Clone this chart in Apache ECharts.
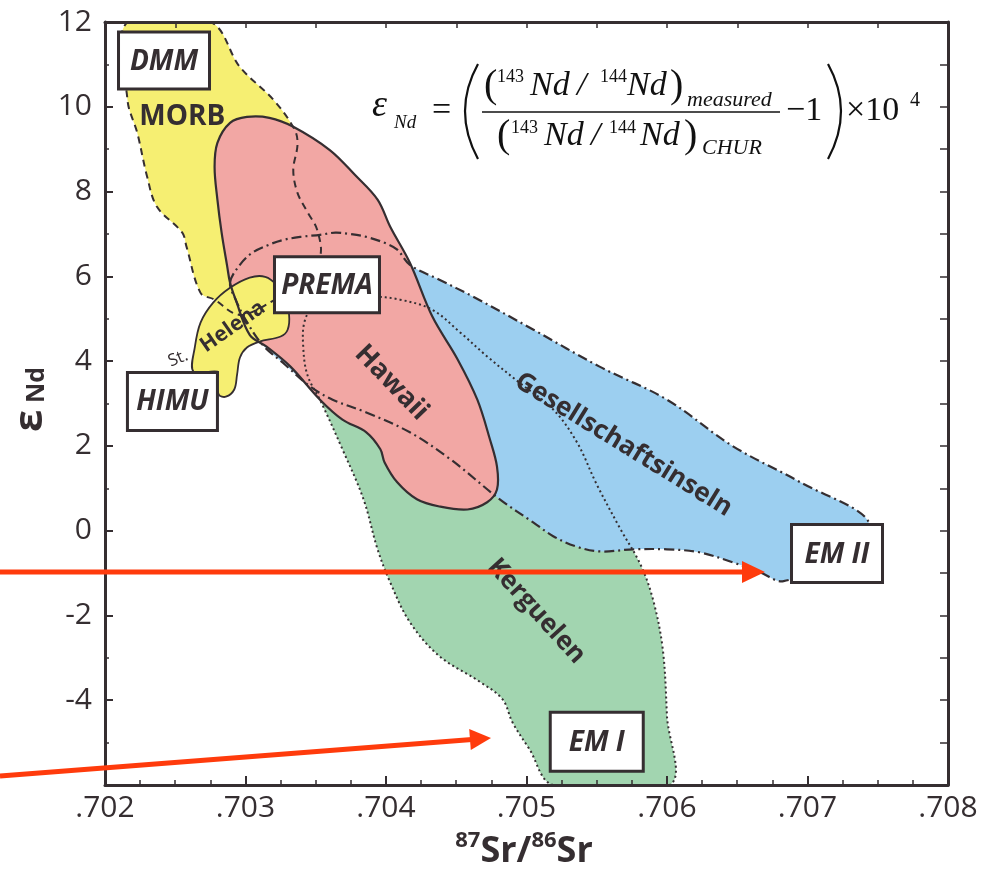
<!DOCTYPE html>
<html><head><meta charset="utf-8">
<script src="https://cdn.jsdelivr.net/npm/echarts@6/dist/echarts.min.js"></script>
<style>html,body{margin:0;padding:0;background:#fff;}#c{width:994px;height:871px;}</style>
</head><body><div id="c"></div>
<script>
// ---------- data (87Sr/86Sr , eps Nd) ----------
const xTickLabels = ['.702', '.703', '.704', '.705', '.706', '.707', '.708'];
const yTickLabels = ['', '-4', '-2', '0', '2', '4', '6', '8', '10', '12'];

const morb = [[0.70216,12.0],[0.70275,12.0],[0.70296,10.94],[0.70320,10.16],[0.70335,9.46],[0.70337,9.10],[0.70334,8.51],[0.70337,7.97],[0.70344,7.52],[0.70351,7.10],[0.70353,6.46],[0.70339,5.80],[0.70321,5.45],[0.70300,5.10],[0.70291,5.14],[0.70278,5.45],[0.70268,5.61],[0.70258,6.70],[0.70255,7.03],[0.70237,7.64],[0.70230,8.35],[0.70223,9.38],[0.70216,10.16]];

const hawaii = [[0.70301,9.76],[0.70317,9.74],[0.70334,9.53],[0.70360,8.98],[0.70378,8.39],[0.70394,7.81],[0.70403,7.17],[0.70417,6.32],[0.70433,5.05],[0.70451,4.04],[0.70465,3.09],[0.70474,2.15],[0.70479,1.51],[0.70479,0.97],[0.70472,0.67],[0.70458,0.50],[0.70438,0.57],[0.70422,0.74],[0.70408,1.14],[0.70399,1.61],[0.70396,1.92],[0.70386,2.32],[0.70369,2.62],[0.70353,3.09],[0.70332,3.87],[0.70315,4.34],[0.70303,4.62],[0.70293,5.45],[0.70289,5.85],[0.70287,6.23],[0.70283,7.03],[0.70280,7.81],[0.70278,8.58],[0.70280,9.15],[0.70289,9.62]];

const gesellschaftsinseln = [[0.70289,5.85],[0.70296,6.27],[0.70305,6.56],[0.70317,6.75],[0.70327,6.86],[0.70339,6.93],[0.70353,6.98],[0.70364,7.03],[0.70374,7.00],[0.70386,6.93],[0.70399,6.79],[0.70408,6.63],[0.70417,6.27],[0.70438,5.92],[0.70462,5.52],[0.70505,4.74],[0.70552,3.87],[0.70600,3.09],[0.70647,1.99],[0.70695,1.14],[0.70744,0.17],[0.70716,-0.68],[0.70683,-1.19],[0.70666,-0.98],[0.70647,-0.75],[0.70623,-0.51],[0.70600,-0.44],[0.70576,-0.44],[0.70552,-0.49],[0.70535,-0.37],[0.70519,-0.13],[0.70505,0.19],[0.70481,0.74],[0.70446,1.68],[0.70417,2.32],[0.70386,2.79],[0.70362,3.09],[0.70346,3.40],[0.70328,3.92],[0.70312,4.39],[0.70300,4.98],[0.70293,5.45]];

const kerguelen = [[0.70342,4.93],[0.70348,5.26],[0.70367,5.45],[0.70389,5.52],[0.70410,5.45],[0.70433,5.21],[0.70453,4.67],[0.70472,4.11],[0.70495,3.49],[0.70519,2.86],[0.70536,2.08],[0.70550,1.09],[0.70567,0.03],[0.70581,-0.79],[0.70590,-1.62],[0.70597,-2.80],[0.70600,-4.38],[0.70602,-6.0],[0.70519,-6.0],[0.70502,-5.15],[0.70490,-4.52],[0.70483,-3.98],[0.70467,-3.57],[0.70438,-2.96],[0.70417,-2.16],[0.70403,-1.22],[0.70394,-0.44],[0.70384,0.74],[0.70369,1.92],[0.70354,3.02],[0.70344,3.68],[0.70341,4.39]];

const stHelena = [[0.70263,3.75],[0.70264,4.34],[0.70268,4.91],[0.70277,5.38],[0.70289,5.73],[0.70303,5.97],[0.70314,5.99],[0.70322,5.80],[0.70328,5.45],[0.70331,5.10],[0.70330,4.74],[0.70325,4.58],[0.70310,4.46],[0.70301,4.32],[0.70296,4.08],[0.70294,3.68],[0.70292,3.33],[0.70286,3.16],[0.70281,3.21],[0.70280,3.56],[0.70280,3.75]];

const endmemberNames = ['DMM', 'HIMU', 'PREMA', 'EM II', 'EM I'];
const endmemberX = [0.70242, 0.70248, 0.70358, 0.70721, 0.70550];
const endmemberY = [11.09, 3.05, 5.80, -0.54, -4.98];

const regionNames = ['MORB', 'Hawaii', 'Gesellschaftsinseln', 'Kerguelen', 'Helena', 'St.'];
const regionX = [0.70255, 0.70404, 0.70569, 0.70507, 0.70291, 0.70252];
const regionY = [9.75, 3.49, 2.03, -1.90, 4.81, 4.06];

// ---------- styles ----------
const INK = '#352e31';
const boxSize = [[91,57],[90,58],[105,56],[91,58],[93,59]];
const regionRot = [0, -46, -31.7, -47.7, 35, 22];
const regionFont = ['bold 28px "Open Sans"', 'bold 27px "Open Sans"', 'bold 26px "Open Sans"', 'bold 26px "Open Sans"', 'bold 21px "Open Sans"', '17px "Open Sans"'];

function polyFill(name, pts, fill, z) {
  return {type:'custom', name, data: pts, z, silent:true, clip:true,
    renderItem: (params, api) => {
      if (params.dataIndex !== 0) return null;
      return {type:'polygon', shape:{points: pts.map(p => api.coord(p)), smooth:0.35},
              style:{fill: fill, stroke:'none'}};
    }};
}
function polyLine(name, pts, dash, lw, z) {
  return {type:'custom', name, data: pts, z, silent:true, clip:true,
    renderItem: (params, api) => {
      if (params.dataIndex !== 0) return null;
      return {type:'polygon', shape:{points: pts.map(p => api.coord(p)), smooth:0.35},
              style:{fill:'none', stroke: INK, lineWidth: lw, lineDash: dash}};
    }};
}

const series = [
  polyFill('MORB', morb, '#f6ef72', 2),
  polyFill('Kerguelen', kerguelen, '#a2d5b0', 2),
  polyFill('Gesellschaftsinseln', gesellschaftsinseln, '#9ccff0', 2),
  polyFill('Hawaii', hawaii, '#f2a7a4', 2),
  polyFill('St. Helena', stHelena, '#f6ef72', 2),
  polyLine('MORB outline', morb, [7,5], 2, 3),
  polyLine('Kerguelen outline', kerguelen, [2,3], 2, 3),
  polyLine('Gesellschaftsinseln outline', gesellschaftsinseln, [10,4,2,4], 2.2, 3),
  polyLine('Hawaii outline', hawaii, null, 2.2, 3),
  polyLine('St. Helena outline', stHelena, null, 1.8, 3),
  {type:'custom', name:'endmembers', z:4, silent:true, clip:false,
   data: endmemberX.map((x,i)=>[x, endmemberY[i]]),
   renderItem: (params, api) => {
     const c = api.coord([api.value(0), api.value(1)]);
     const s = boxSize[params.dataIndex];
     return {type:'group', children:[
       {type:'rect', shape:{x:c[0]-s[0]/2, y:c[1]-s[1]/2, width:s[0], height:s[1]},
        style:{fill:'#fff', stroke:INK, lineWidth:3}},
       {type:'text', x:c[0], y:c[1]+1, style:{text:endmemberNames[params.dataIndex], fill:INK,
        font:'italic bold 28px "Open Sans"', align:'center', verticalAlign:'middle'}}
     ]};
   }},
  {type:'custom', name:'regions', z:5, silent:true, clip:false,
   data: regionX.map((x,i)=>[x, regionY[i]]),
   renderItem: (params, api) => {
     const c = api.coord([api.value(0), api.value(1)]);
     const i = params.dataIndex;
     return {type:'text', x:c[0], y:c[1], rotation: regionRot[i]*Math.PI/180,
       style:{text:regionNames[i], fill:INK, font:regionFont[i], align:'center', verticalAlign:'middle'}};
   }}
];

const serif = '"Liberation Serif","Times New Roman",serif';
function t(x, y, text, size, italic, extra) {
  return Object.assign({type:'text', x, y, z:100, silent:true,
    style:{text, fill:'#111', font:(italic?'italic ':'') + size + 'px ' + serif, align:'left', verticalAlign:'middle'}}, extra||{});
}
const RED = '#ff3b0c';
const graphic = [
  // y axis title
  {type:'text', x:31, y:421, rotation:Math.PI/2, z:100, style:{text:'ε', fill:INK, font:'bold 40px "Open Sans"', align:'center', verticalAlign:'middle'}},
  {type:'text', x:37, y:385, rotation:Math.PI/2, z:100, style:{text:'Nd', fill:INK, font:'bold 25px "Open Sans"', align:'center', verticalAlign:'middle'}},
  // x axis title
  {type:'text', x:524, y:850, z:100, style:{text:'{s|87}{b|Sr/}{s|86}{b|Sr}', align:'center', verticalAlign:'middle',
    rich:{s:{fill:INK, fontSize:22, fontWeight:'bold', fontFamily:'Open Sans', lineHeight:40, verticalAlign:'top'},
          b:{fill:INK, fontSize:36, fontWeight:'bold', fontFamily:'Open Sans', lineHeight:40, verticalAlign:'bottom'}}}},
  // formula
  t(372, 106, 'ε', 38, true),
  t(394, 123, 'Nd', 19, true),
  t(432, 111, '=', 34, false),
  {type:'bezierCurve', z:100, silent:true, shape:{x1:478,y1:64,x2:478,y2:159,cpx1:452,cpy1:111}, style:{stroke:'#111', lineWidth:2.2, fill:'none'}},
  {type:'bezierCurve', z:100, silent:true, shape:{x1:828,y1:64,x2:828,y2:159,cpx1:854,cpy1:111}, style:{stroke:'#111', lineWidth:2.2, fill:'none'}},
  t(484, 86, '(', 40, false),
  t(497, 77, '143', 18, false),
  t(530, 86, 'Nd', 34, true),
  t(577, 86, '/', 34, true),
  t(600, 77, '144', 18, false),
  t(627, 86, 'Nd', 34, true),
  t(670, 86, ')', 40, false),
  t(687, 100, 'measured', 22, true),
  {type:'line', z:100, silent:true, shape:{x1:482,y1:112,x2:780,y2:112}, style:{stroke:'#111', lineWidth:1.5}},
  t(497, 136, '(', 40, false),
  t(511, 128, '143', 18, false),
  t(544, 136, 'Nd', 34, true),
  t(591, 136, '/', 34, true),
  t(609, 128, '144', 18, false),
  t(640, 136, 'Nd', 34, true),
  t(684, 136, ')', 40, false),
  t(702, 148, 'CHUR', 22, true),
  t(786, 111, '−1', 34, false),
  t(846, 111, '×10', 34, false),
  t(910, 101, '4', 20, false),
  // red arrows
  {type:'line', z:100, silent:true, shape:{x1:0,y1:572,x2:745,y2:572}, style:{stroke:RED, lineWidth:5}},
  {type:'polygon', z:100, silent:true, shape:{points:[[742,561],[765,572],[742,583]]}, style:{fill:RED}},
  {type:'line', z:100, silent:true, shape:{x1:0,y1:776,x2:472,y2:739.6}, style:{stroke:RED, lineWidth:5}},
  {type:'polygon', z:100, silent:true, shape:{points:[[470.8,750],[491,738],[469.2,729]]}, style:{fill:RED}}
];

const axisLine = {show:true, onZero:false, lineStyle:{color:INK, width:3}};
const option = {
  animation:false,
  grid:{left:105, right:46, top:22, bottom:86},
  xAxis:[
    {type:'value', min:0.702, max:0.708, interval:0.001, position:'bottom', z:10,
     axisLine, splitLine:{show:false},
     axisTick:{show:true, inside:true, length:9, lineStyle:{color:INK, width:2}},
     minorTick:{show:true, splitNumber:4, length:5, lineStyle:{color:INK, width:1.5}},
     axisLabel:{formatter:(v,i)=>xTickLabels[i] ?? '', fontSize:30, fontFamily:'Open Sans', color:INK, margin:8, showMinLabel:true, showMaxLabel:true}},
    {type:'value', min:0.702, max:0.708, interval:0.0005, position:'top', z:10,
     axisLine, splitLine:{show:false},
     axisTick:{show:true, inside:true, length:6, lineStyle:{color:INK, width:1.5}},
     axisLabel:{show:false}}
  ],
  yAxis:[
    {type:'value', min:-6, max:12, interval:2, position:'left', z:10,
     axisLine, splitLine:{show:false},
     axisTick:{show:true, inside:true, length:8, lineStyle:{color:INK, width:2}},
     minorTick:{show:true, splitNumber:2, length:4, lineStyle:{color:INK, width:1.5}},
     axisLabel:{formatter:(v,i)=>yTickLabels[i] ?? '', fontSize:30, fontFamily:'Open Sans', color:INK, margin:13, showMinLabel:true, showMaxLabel:true}},
    {type:'value', min:-6, max:12, interval:1, position:'right', z:10,
     axisLine, splitLine:{show:false},
     axisTick:{show:true, inside:true, length:8, lineStyle:{color:INK, width:1.5}},
     axisLabel:{show:false}}
  ],
  series,
  graphic
};
const chart = echarts.init(document.getElementById('c'), null, {renderer:'canvas'});
chart.setOption(option);
</script>
</body></html>
